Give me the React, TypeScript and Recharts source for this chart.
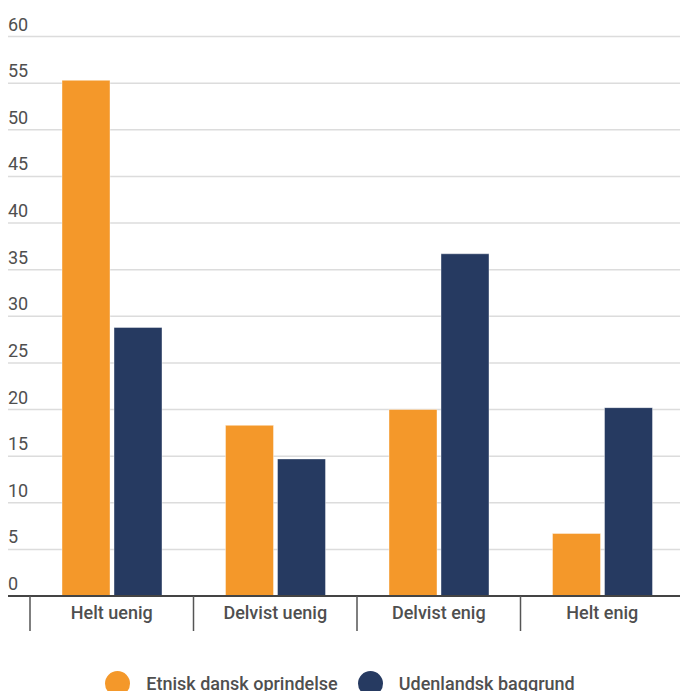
import React from 'react'
import { BarChart, Bar, XAxis, YAxis, CartesianGrid, Legend } from 'recharts'

const categories = ['Helt uenig', 'Delvist uenig', 'Delvist enig', 'Helt enig']
const etniskDansk = [55.3, 18.3, 20.0, 6.7]
const udenlandsk = [28.8, 14.7, 36.7, 20.2]
const yTicks = [0, 5, 10, 15, 20, 25, 30, 35, 40, 45, 50, 55, 60]

const ORANGE = '#f4982a'
const NAVY = '#263a61'
const TEXT = '#4f4f4f'
const FONT = 'Roboto, "Noto Sans", sans-serif'

const data = categories.map((name, i) => ({
  name,
  dansk: etniskDansk[i],
  udenlandsk: udenlandsk[i],
}))

function YTick({ y, payload }: any) {
  return (
    <text x={8} y={y - 6} fill={TEXT} fontSize={18} fontFamily={FONT} textAnchor="start">
      {payload.value}
    </text>
  )
}

function XTick({ x, y, payload }: any) {
  const half = payload.offset ?? 81.75
  return (
    <g>
      <line x1={x - half} x2={x - half} y1={y} y2={y + 35} stroke="#555" strokeWidth={1.5} />
      <text x={x} y={y + 23} fill={TEXT} fontSize={18} fontWeight={500} fontFamily={FONT} textAnchor="middle">
        {payload.value}
      </text>
    </g>
  )
}

function LegendContent() {
  const items = [
    { label: 'Etnisk dansk oprindelse', color: ORANGE },
    { label: 'Udenlandsk baggrund', color: NAVY },
  ]
  return (
    <div style={{ display: 'flex', justifyContent: 'center', alignItems: 'center', height: 30, gap: 20 }}>
      {items.map((it) => (
        <div key={it.label} style={{ display: 'flex', alignItems: 'center' }}>
          <span
            style={{
              width: 25,
              height: 25,
              borderRadius: '50%',
              background: it.color,
              display: 'inline-block',
              marginRight: 16,
            }}
          />
          <span style={{ fontFamily: FONT, fontSize: 18, fontWeight: 500, color: TEXT }}>{it.label}</span>
        </div>
      ))}
    </div>
  )
}

export default function App() {
  return (
    <div style={{ position: 'fixed', top: 0, left: 0, width: 680, height: 691, overflow: 'hidden', background: '#fff' }}>
      <BarChart
        width={690}
        height={698}
        data={data}
        margin={{ top: 36.5, right: 6, left: 8, bottom: 0 }}
        barGap={4}
        barSize={48}
      >
        <CartesianGrid vertical={false} stroke="#dcdcdc" strokeWidth={1.5} />
        <YAxis
          domain={[0, 60]}
          ticks={yTicks}
          width={40}
          mirror
          axisLine={false}
          tickLine={false}
          tick={<YTick />}
          interval={0}
        />
        <XAxis
          dataKey="name"
          padding={{ left: 22, right: 0 }}
          height={72}
          axisLine={{ stroke: '#444', strokeWidth: 2 }}
          tickLine={false}
          tickSize={0}
          tickMargin={0}
          tick={<XTick />}
          interval={0}
        />
        <Legend
          verticalAlign="bottom"
          height={30}
          content={<LegendContent />}
          wrapperStyle={{ left: 0, width: 680 }}
        />
        <Bar dataKey="dansk" name="Etnisk dansk oprindelse" fill={ORANGE} stroke="#fff" strokeOpacity={0.4} isAnimationActive={false} />
        <Bar dataKey="udenlandsk" name="Udenlandsk baggrund" fill={NAVY} stroke="#fff" strokeOpacity={0.4} isAnimationActive={false} />
      </BarChart>
    </div>
  )
}
